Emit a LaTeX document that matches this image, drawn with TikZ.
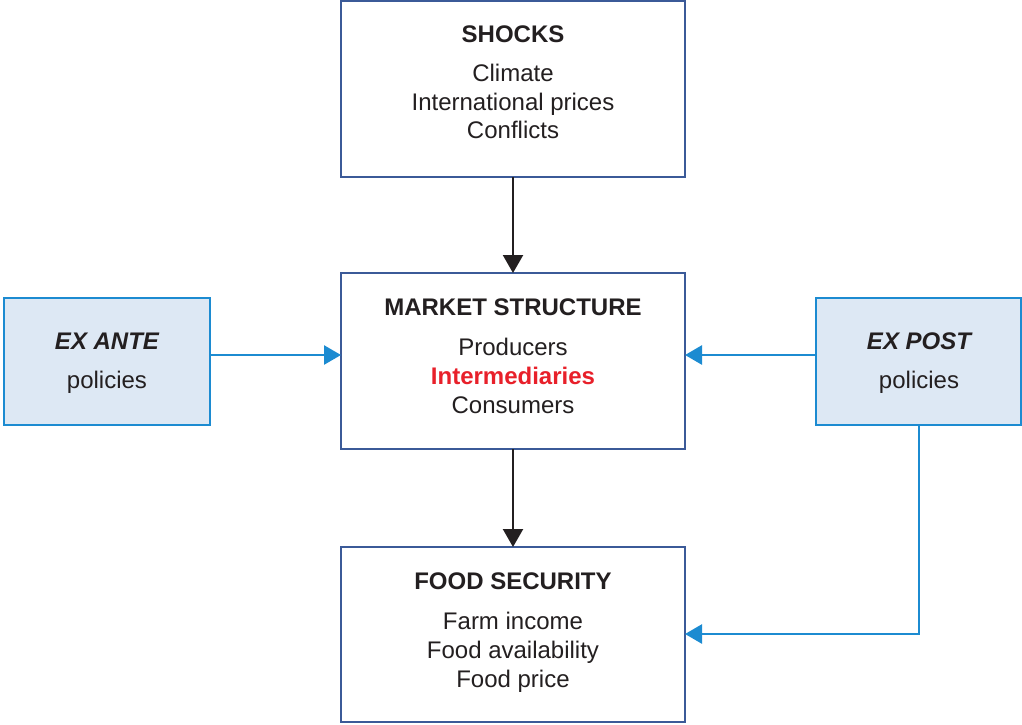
\documentclass[tikz,border=0pt]{standalone}
\usepackage{fontspec}
\setmainfont{Liberation Sans}
\usetikzlibrary{arrows.meta}
\definecolor{framedark}{HTML}{3B5A98}
\definecolor{frameblue}{HTML}{1C8BD1}
\definecolor{policyfill}{HTML}{DDE8F4}
\definecolor{inktext}{HTML}{231F20}
\definecolor{accentred}{HTML}{E8202A}
\begin{document}
\begin{tikzpicture}[x=1pt,y=-1pt,
  mainbox/.style={draw=framedark, line width=2.2pt, fill=white, anchor=north west,
    minimum width=344pt, minimum height=176pt, inner sep=0pt, outer sep=0pt},
  policybox/.style={draw=frameblue, line width=2.4pt, fill=policyfill, anchor=north west,
    minimum width=206pt, minimum height=127pt, inner sep=0pt, outer sep=0pt},
  txt/.style={anchor=base, inner sep=0pt, text=inktext, font=\fontsize{24}{29}\selectfont},
  ttl/.style={txt, font=\fontsize{24}{29}\selectfont\bfseries},
  darkarrow/.style={draw=inktext, line width=2.2pt, -{Triangle[length=18pt,width=20pt]}},
  bluearrow/.style={draw=frameblue, line width=2.6pt, -{Triangle[length=17pt,width=19pt]}}]
\useasboundingbox (0,0) rectangle (1022,724);

% main column
\node[mainbox] (shocks) at (341,1) {};
\node[mainbox] (market) at (341,273) {};
\node[mainbox, minimum height=175pt] (food) at (341,547) {};

% policy boxes
\node[policybox] (exante) at (4,298) {};
\node[policybox, minimum width=205pt] (expost) at (816,298) {};

% shocks text
\node[ttl] (shocksT) at (513,42) {SHOCKS};
\node[txt] (shocks1) at (513,81) {Climate};
\node[txt] (shocks2) at (513,110) {International prices};
\node[txt] (shocks3) at (513,138) {Conflicts};

% market structure text
\node[ttl] (marketT) at (513,315) {MARKET STRUCTURE};
\node[txt] (market1) at (513,355) {Producers};
\node[txt, font=\fontsize{24}{29}\selectfont\bfseries, text=accentred] (market2) at (513,384) {Intermediaries};
\node[txt] (market3) at (513,413) {Consumers};

% food security text
\node[ttl] (foodT) at (513,589) {FOOD SECURITY};
\node[txt] (food1) at (513,629) {Farm income};
\node[txt] (food2) at (513,658) {Food availability};
\node[txt] (food3) at (513,687) {Food price};

% policy text
\node[ttl, font=\fontsize{24}{29}\selectfont\bfseries\itshape] (exanteT) at (107,349) {EX ANTE};
\node[txt] (exante1) at (107,388) {policies};
\node[ttl, font=\fontsize{24}{29}\selectfont\bfseries\itshape] (expostT) at (919,349) {EX POST};
\node[txt] (expost1) at (919,388) {policies};

% connectors
\draw[darkarrow] (shocks.south) -- (market.north);
\draw[darkarrow] (market.south) -- (food.north);
\coordinate (anteOut) at (exante.east |- 0,355);
\coordinate (marketIn) at (market.west |- 0,355);
\draw[bluearrow] (anteOut) -- (marketIn);
\coordinate (postOut) at (expost.west |- 0,355);
\coordinate (marketOut) at (market.east |- 0,355);
\draw[bluearrow] (postOut) -- (marketOut);
\coordinate (postDown) at (919,425);
\coordinate (corner) at (919,634);
\coordinate (foodIn) at (food.east |- 0,634);
\draw[bluearrow] (postDown) -- (corner) -- (foodIn);
\end{tikzpicture}
\end{document}
